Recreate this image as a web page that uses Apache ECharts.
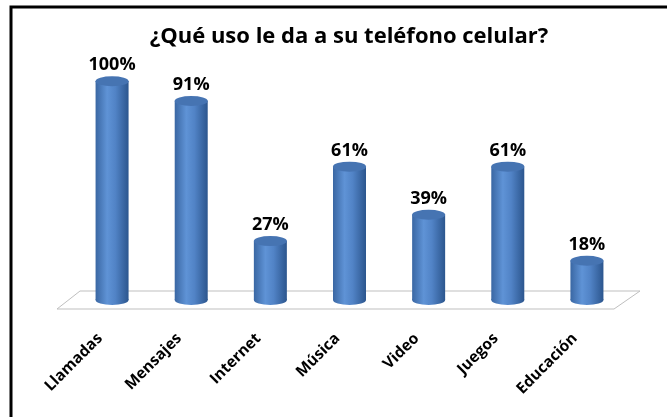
<!DOCTYPE html>
<html>
<head>
<meta charset="utf-8">
<script src="https://cdn.jsdelivr.net/npm/echarts@6/dist/echarts.min.js"></script>
<style>
html,body{margin:0;padding:0;background:#fff;}
#chart{width:667px;height:417px;}
</style>
</head>
<body>
<div id="chart"></div>
<script>
const titleText = '¿Qué uso le da a su teléfono celular?';
const categories = ['Llamadas', 'Mensajes', 'Internet', 'Música', 'Video', 'Juegos', 'Educación'];
const values = [100, 91, 27, 61, 39, 61, 18];

const FONT = 'Open Sans';
const chart = echarts.init(document.getElementById('chart'), null, {renderer: 'canvas'});

const bodyGradient = new echarts.graphic.LinearGradient(0, 0, 1, 0, [
  {offset: 0, color: '#3A67A3'},
  {offset: 0.35, color: '#5F93D6'},
  {offset: 0.6, color: '#5183C6'},
  {offset: 1, color: '#2C568E'}
]);

const option = {
  backgroundColor: '#ffffff',
  animation: false,
  title: {
    text: titleText,
    left: 344,
    top: 21,
    textAlign: 'center',
    textStyle: {fontFamily: FONT, fontWeight: 'bold', fontSize: 22, color: '#000'}
  },
  graphic: [
    {
      type: 'rect', z: 0, silent: true,
      shape: {x: 11, y: 7, width: 700, height: 460},
      style: {fill: 'none', stroke: '#000', lineWidth: 3}
    },
    {
      type: 'polygon', z: 0, silent: true,
      shape: {points: [[80, 291], [640, 291], [614, 309], [57, 309]]},
      style: {fill: '#ffffff', stroke: '#BFBFBF', lineWidth: 1}
    }
  ],
  grid: {left: 72.5, right: 40.5, top: 81, bottom: 117, containLabel: false},
  xAxis: {
    type: 'category',
    data: categories,
    axisLine: {show: false},
    axisTick: {show: false},
    axisLabel: {
      interval: 0,
      rotate: 45,
      margin: 24,
      padding: [0, 17, 0, 0],
      fontFamily: FONT,
      fontWeight: 'bold',
      fontSize: 15.5,
      color: '#000'
    }
  },
  yAxis: {
    type: 'value', min: 0, max: 100,
    show: false,
    splitLine: {show: false}
  },
  series: [
    {
      type: 'bar',
      data: values,
      barWidth: 33,
      z: 2,
      itemStyle: {color: bodyGradient},
      label: {
        show: true,
        position: 'top',
        distance: 7,
        formatter: p => p.value + '%',
        fontFamily: FONT,
        fontWeight: 'bold',
        fontSize: 18,
        color: '#000'
      }
    },
    {
      type: 'pictorialBar',
      data: values,
      symbol: 'circle',
      symbolSize: [33, 10],
      symbolPosition: 'start',
      symbolOffset: [0, '50%'],
      z: 1,
      itemStyle: {color: bodyGradient}
    },
    {
      type: 'pictorialBar',
      data: values,
      symbol: 'circle',
      symbolSize: [33, 10],
      symbolPosition: 'end',
      symbolOffset: [0, '-50%'],
      z: 3,
      itemStyle: {color: '#4674B2', borderColor: '#5A8BCB', borderWidth: 0.8}
    }
  ]
};
chart.setOption(option);
</script>
</body>
</html>
